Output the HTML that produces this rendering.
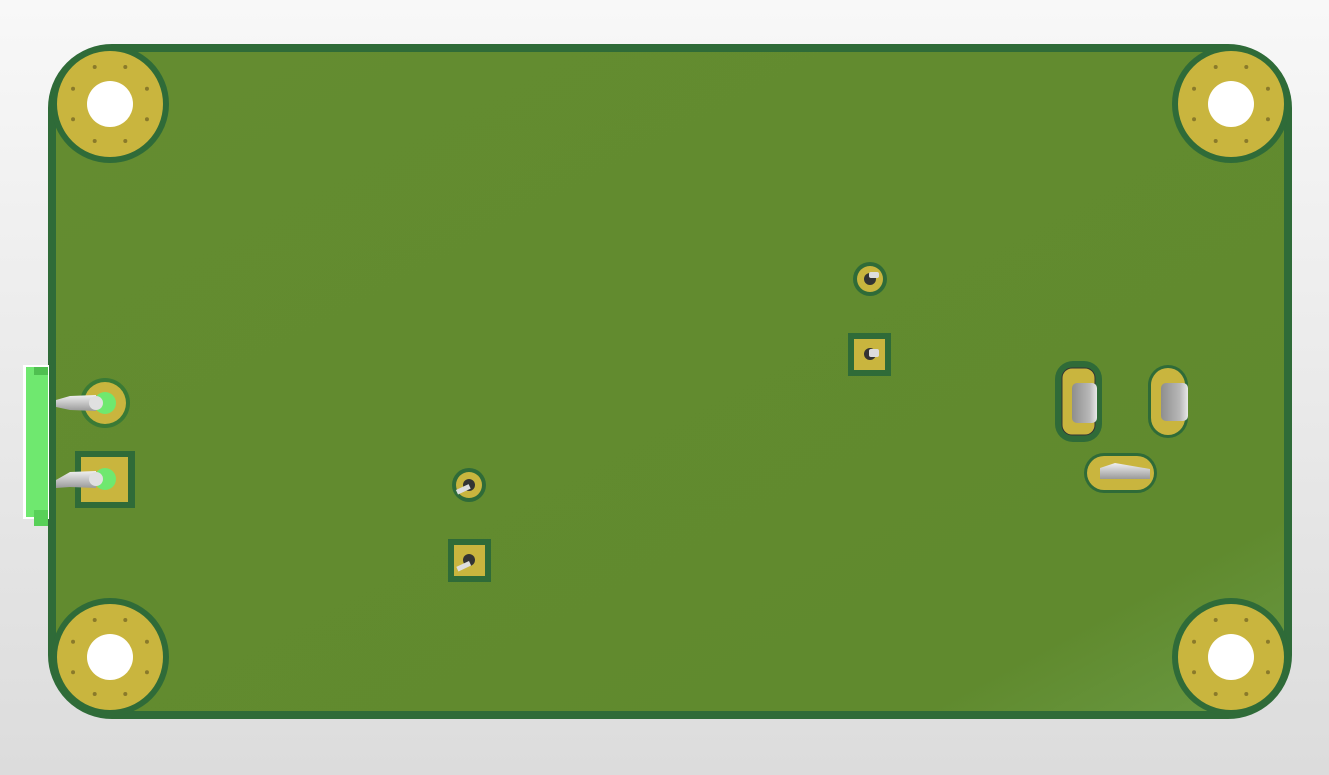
<!DOCTYPE html>
<html><head><meta charset="utf-8"><style>
html,body{margin:0;padding:0;width:1329px;height:775px;overflow:hidden;background:linear-gradient(#f8f8f8,#dcdcdc);}
svg{display:block}
</style></head><body>
<svg width="1329" height="775" viewBox="0 0 1329 775">
<defs>
<linearGradient id="bd" x1="0" y1="0" x2="1" y2="1">
<stop offset="0" stop-color="#648c30"/><stop offset="0.85" stop-color="#608a2e"/><stop offset="1" stop-color="#6a9a44"/></linearGradient>
<linearGradient id="pin" x1="0" y1="0" x2="0" y2="1"><stop offset="0" stop-color="#f0f0f0"/><stop offset="1" stop-color="#9a9a9a"/></linearGradient>
<linearGradient id="slot" x1="0" y1="0" x2="1" y2="0"><stop offset="0" stop-color="#8e8e8e"/><stop offset="0.7" stop-color="#b8b8b8"/><stop offset="1" stop-color="#e8e8e8"/></linearGradient>
</defs>
<rect x="52" y="48" width="1236" height="667" rx="60" fill="url(#bd)" stroke="#2f6b38" stroke-width="8"/>
<!-- connector -->
<g>
<rect x="23" y="365" width="26" height="154" fill="#fff"/>
<rect x="26" y="367" width="22" height="150" fill="#6fe86f"/>
<rect x="34" y="367" width="14" height="8" fill="#4fc050"/>
<rect x="34" y="510" width="14" height="16" fill="#58d058"/>
</g>
<g id="holes"></g>
<!-- connector pads -->
<g>
<circle cx="105" cy="403" r="25" fill="#3a7a35"/><circle cx="105" cy="403" r="21" fill="#c9b53e"/>
<circle cx="105" cy="403" r="11" fill="#6fe86f"/>
<polygon points="56,400 70,396 96,395 96,411 70,410 56,407" fill="url(#pin)"/>
<circle cx="96" cy="403" r="7" fill="#e0e0e0"/>
</g>
<g>
<rect x="75" y="451" width="60" height="57" fill="#2f6b38"/><rect x="81" y="457" width="47" height="45" fill="#c9b53e"/>
<circle cx="105" cy="479" r="11" fill="#6fe86f"/>
<polygon points="56,480 70,472 96,471 96,488 70,487 56,488" fill="url(#pin)"/>
<circle cx="96" cy="479" r="7" fill="#e0e0e0"/>
</g>
<!-- small THT parts -->
<g><circle cx="469" cy="485" r="17" fill="#2f6b38"/><circle cx="469" cy="485" r="13" fill="#c9b53e"/><circle cx="469" cy="485" r="6" fill="#333"/><rect x="455" y="484" width="14" height="5" fill="#ddd" transform="rotate(-25 469 485)"/></g>
<g><rect x="448" y="539" width="43" height="43" fill="#2f6b38"/><rect x="454" y="545" width="31" height="31" fill="#c9b53e"/><circle cx="469" cy="560" r="6" fill="#333"/><rect x="455" y="561" width="14" height="5" fill="#ddd" transform="rotate(-25 469 561)"/></g>
<g><circle cx="870" cy="279" r="17" fill="#2f6b38"/><circle cx="870" cy="279" r="13" fill="#c9b53e"/><circle cx="870" cy="279" r="6" fill="#333"/><rect x="869" y="272" width="10" height="6" fill="#ddd" rx="2"/></g>
<g><rect x="848" y="333" width="43" height="43" fill="#2f6b38"/><rect x="854" y="339" width="31" height="31" fill="#c9b53e"/><circle cx="870" cy="354" r="6" fill="#333"/><rect x="869" y="349" width="10" height="8" fill="#ddd" rx="2"/></g>
<!-- slotted pads -->
<g><rect x="1055" y="361" width="47" height="81" rx="18" fill="#2f6b38"/><rect x="1062" y="368" width="33" height="67" rx="10" fill="#c9b53e" stroke="#333" stroke-width="1"/><rect x="1072" y="383" width="25" height="40" rx="5" fill="url(#slot)"/></g>
<g><rect x="1148" y="365" width="40" height="73" rx="20" fill="#2f6b38"/><rect x="1151" y="368" width="34" height="67" rx="17" fill="#c9b53e"/><rect x="1161" y="383" width="27" height="38" rx="5" fill="url(#slot)"/></g>
<g><rect x="1084" y="453" width="73" height="40" rx="20" fill="#2f6b38"/><rect x="1087" y="456" width="67" height="34" rx="17" fill="#c9b53e"/><polygon points="1100,468 1115,463 1150,469 1150,479 1100,479" fill="url(#pin)"/></g>
<script>
const holeXs=[110,1231,110,1231];
const holeYs=[104,104,657,657];
const g=document.getElementById('holes');
const ns='http://www.w3.org/2000/svg';
for(let i=0;i<4;i++){
 const grp=document.createElementNS(ns,'g');
 
 
 const add=(r,f)=>{const c=document.createElementNS(ns,'circle');c.setAttribute('cx',holeXs[i]);c.setAttribute('cy',holeYs[i]);c.setAttribute('r',r);c.setAttribute('fill',f);grp.appendChild(c);};
 add(59,'#2f6b38');add(53,'#c9b53e');add(23,'#fff');
 for(let k=0;k<8;k++){const a=(k*45+22.5)*Math.PI/180;const c=document.createElementNS(ns,'circle');c.setAttribute('cx',holeXs[i]+40*Math.cos(a));c.setAttribute('cy',holeYs[i]+40*Math.sin(a));c.setAttribute('r',2);c.setAttribute('fill','#8a7a2a');grp.appendChild(c);}
 g.appendChild(grp);
}
</script>
</svg>
</body></html>
